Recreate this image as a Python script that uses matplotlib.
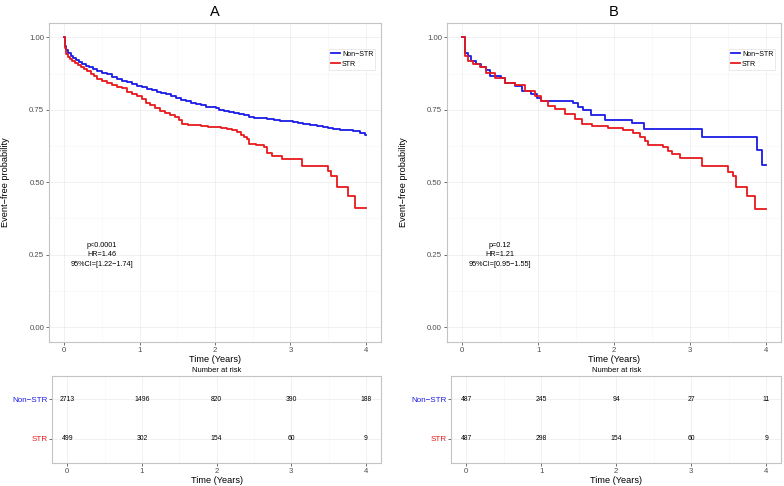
import numpy as np
import matplotlib
matplotlib.use("Agg")
import matplotlib.pyplot as plt
from matplotlib.ticker import MultipleLocator

plt.rcParams['font.family'] = ['Liberation Sans', 'DejaVu Sans']

# panel A, Kaplan-Meier curves (time in years, survival)
a_non_t = [0, 0.013, 0.031, 0.057, 0.087, 0.118, 0.153, 0.197, 0.24, 0.284, 0.328, 0.381, 0.437,
           0.503, 0.569, 0.634, 0.70, 0.766, 0.831, 0.897, 0.962, 1.028, 1.094, 1.159, 1.225, 1.29,
           1.356, 1.422, 1.487, 1.553, 1.619, 1.684, 1.75, 1.815, 1.88, 1.947, 2.012, 2.056, 2.12,
           2.187, 2.253, 2.318, 2.384, 2.45, 2.515, 2.603, 2.69, 2.778, 2.866, 2.953, 3.04, 3.106,
           3.17, 3.26, 3.347, 3.434, 3.5, 3.565, 3.653, 3.74, 3.83, 3.915, 3.99, 4.0]
a_non_s = [1.0, 0.970, 0.958, 0.946, 0.936, 0.928, 0.921, 0.914, 0.908, 0.902, 0.897, 0.891, 0.885,
           0.878, 0.872, 0.863, 0.857, 0.851, 0.845, 0.838, 0.833, 0.828, 0.823, 0.819, 0.813, 0.807,
           0.803, 0.798, 0.791, 0.784, 0.779, 0.774, 0.769, 0.765, 0.761, 0.758, 0.755, 0.750, 0.746,
           0.743, 0.739, 0.736, 0.733, 0.726, 0.723, 0.720, 0.718, 0.716, 0.713, 0.711, 0.709, 0.705,
           0.700, 0.697, 0.695, 0.692, 0.687, 0.683, 0.680, 0.679, 0.677, 0.671, 0.664, 0.664]
a_str_t = [0, 0.013, 0.026, 0.048, 0.074, 0.109, 0.144, 0.179, 0.219, 0.262, 0.306, 0.35, 0.394,
           0.437, 0.503, 0.569, 0.634, 0.70, 0.766, 0.831, 0.897, 0.962, 1.028, 1.08, 1.137, 1.203,
           1.269, 1.334, 1.40, 1.465, 1.518, 1.562, 1.64, 1.728, 1.815, 1.903, 1.99, 2.078, 2.165,
           2.231, 2.297, 2.34, 2.384, 2.428, 2.45, 2.537, 2.65, 2.69, 2.756, 2.888, 3.15, 3.5, 3.543,
           3.61, 3.76, 3.85, 4.0]
a_str_s = [1.0, 0.964, 0.942, 0.932, 0.925, 0.919, 0.912, 0.906, 0.899, 0.891, 0.883, 0.875, 0.867,
           0.855, 0.850, 0.844, 0.836, 0.829, 0.824, 0.813, 0.804, 0.796, 0.788, 0.775, 0.766, 0.755,
           0.746, 0.740, 0.733, 0.726, 0.714, 0.700, 0.698, 0.696, 0.694, 0.691, 0.689, 0.686, 0.683,
           0.680, 0.673, 0.662, 0.656, 0.648, 0.631, 0.627, 0.623, 0.602, 0.590, 0.581, 0.556, 0.539,
           0.522, 0.482, 0.453, 0.41, 0.41]

# panel B
b_non_t = [0, 0.035, 0.079, 0.123, 0.189, 0.255, 0.32, 0.365, 0.518, 0.562, 0.694, 0.782, 0.913, 0.98,
           1.045, 1.22, 1.46, 1.528, 1.594, 1.70, 1.88, 2.23, 2.398, 3.153, 3.878, 3.944, 4.0]
b_non_s = [1.0, 0.947, 0.936, 0.919, 0.907, 0.898, 0.886, 0.867, 0.861, 0.844, 0.833, 0.815, 0.804, 0.792,
           0.781, 0.779, 0.772, 0.758, 0.749, 0.733, 0.714, 0.705, 0.685, 0.657, 0.611, 0.558, 0.558]
b_str_t = [0, 0.035, 0.079, 0.145, 0.233, 0.32, 0.43, 0.562, 0.694, 0.826, 0.957, 1.045, 1.133, 1.22,
           1.353, 1.484, 1.572, 1.704, 1.923, 2.12, 2.25, 2.34, 2.405, 2.45, 2.65, 2.714, 2.758, 2.868,
           3.153, 3.5, 3.57, 3.61, 3.745, 3.86, 4.0]
b_str_s = [1.0, 0.936, 0.919, 0.907, 0.896, 0.878, 0.861, 0.844, 0.836, 0.815, 0.798, 0.781, 0.764, 0.752,
           0.735, 0.718, 0.70, 0.695, 0.688, 0.68, 0.671, 0.657, 0.642, 0.627, 0.623, 0.608, 0.596, 0.585,
           0.556, 0.536, 0.52, 0.482, 0.451, 0.408, 0.408]

risk_times = [0, 1, 2, 3, 4]
a_risk_non = [2713, 1496, 820, 390, 188]
a_risk_str = [499, 302, 154, 60, 9]
b_risk_non = [487, 245, 94, 27, 11]
b_risk_str = [487, 298, 154, 60, 9]

a_stats = "p<0.0001\nHR=1.46\n95%CI=[1.22\u22121.74]"
b_stats = "p=0.12\nHR=1.21\n95%CI=[0.95\u22121.55]"

BLUE = '#1a1ae6'
RED = '#e8191c'
GRID = '#ebebeb'
GRID_MINOR = '#f6f6f6'
BORDER = '#c4c4c4'
TXT = '#4d4d4d'


def style_axes(ax):
    for sp in ax.spines.values():
        sp.set_color(BORDER)
        sp.set_linewidth(0.8)
    ax.tick_params(which='major', length=2, width=0.6, color='#555555',
                   labelsize=5.6, labelcolor=TXT, pad=1.5)
    ax.tick_params(which='minor', length=0)
    ax.grid(True, which='major', color=GRID, lw=0.5)
    ax.grid(True, which='minor', color=GRID_MINOR, lw=0.4)
    ax.set_axisbelow(True)


def km_panel(fig, rect, title, non_t, non_s, str_t, str_s, stats):
    ax = fig.add_axes(rect)
    ax.plot(non_t, non_s, drawstyle='steps-post', color=BLUE, lw=1.3, label='Non\u2212STR')
    ax.plot(str_t, str_s, drawstyle='steps-post', color=RED, lw=1.3, label='STR')
    ax.set_xlim(-0.2, 4.2)
    ax.set_ylim(-0.05, 1.05)
    ax.set_xticks([0, 1, 2, 3, 4])
    ax.set_yticks([0, 0.25, 0.5, 0.75, 1.0])
    ax.set_yticklabels(['0.00', '0.25', '0.50', '0.75', '1.00'])
    ax.xaxis.set_minor_locator(MultipleLocator(0.5))
    ax.yaxis.set_minor_locator(MultipleLocator(0.125))
    style_axes(ax)
    ax.set_xlabel('Time (Years)', fontsize=6.6, color='black', labelpad=1)
    ax.set_ylabel('Event\u2212free probability', fontsize=6.6, color='black', labelpad=14)
    ax.set_title(title, fontsize=10.5, pad=5)
    ax.text(0.5, 0.25, stats, ha='center', va='center', fontsize=5.2,
            linespacing=1.5, color='black')
    leg = ax.legend(loc='center', bbox_to_anchor=(0.913, 0.886), fontsize=5,
                    handlelength=1.3, handletextpad=0.3, borderpad=0.3,
                    labelspacing=0.4, fancybox=False, framealpha=1)
    leg.get_frame().set_edgecolor('#e6e6e6')
    leg.get_frame().set_linewidth(0.6)
    return ax


def risk_panel(fig, rect, non_counts, str_counts):
    ax = fig.add_axes(rect)
    for t, n in zip(risk_times, non_counts):
        ax.text(t, 2, str(n), ha='center', va='center', fontsize=4.9)
    for t, n in zip(risk_times, str_counts):
        ax.text(t, 1, str(n), ha='center', va='center', fontsize=4.9)
    ax.set_xlim(-0.2, 4.2)
    ax.set_ylim(0.4, 2.6)
    ax.set_xticks(risk_times)
    ax.set_yticks([1, 2])
    ax.set_yticklabels(['STR', 'Non\u2212STR'])
    ax.xaxis.set_minor_locator(MultipleLocator(0.5))
    style_axes(ax)
    ax.tick_params(axis='y', labelsize=5.8)
    lbls = ax.get_yticklabels()
    lbls[0].set_color(RED)
    lbls[1].set_color(BLUE)
    ax.set_xlabel('Time (Years)', fontsize=6.6, color='black', labelpad=1)
    ax.set_title('Number at risk', fontsize=5.4, pad=3)
    return ax


fig = plt.figure(figsize=(7.84, 4.86), dpi=100)

km_panel(fig, [0.0625, 0.297, 0.4235, 0.656], 'A', a_non_t, a_non_s, a_str_t, a_str_s, a_stats)
risk_panel(fig, [0.0667, 0.048, 0.419, 0.179], a_risk_non, a_risk_str)

km_panel(fig, [0.570, 0.297, 0.4265, 0.656], 'B', b_non_t, b_non_s, b_str_t, b_str_s, b_stats)
risk_panel(fig, [0.5756, 0.048, 0.421, 0.179], b_risk_non, b_risk_str)

fig.savefig('out.png', dpi=100)
